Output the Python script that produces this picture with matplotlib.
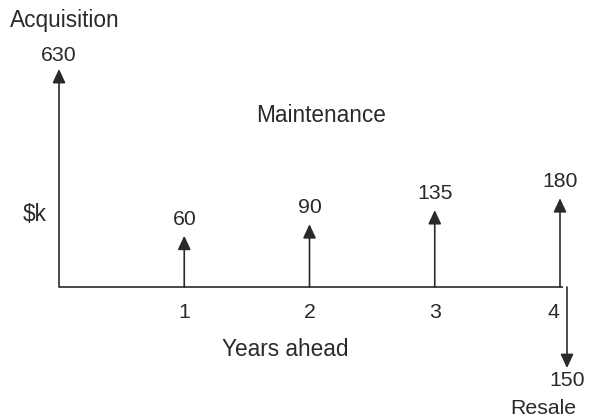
import numpy as np
import matplotlib
matplotlib.use("Agg")
import matplotlib.pyplot as plt

plt.rcParams['font.family'] = ['Liberation Sans', 'DejaVu Sans']

# ---- data ----
years = [1, 2, 3, 4]
maintenance = [60, 90, 135, 180]          # $k, upward cash flows
acquisition_year = 0
acquisition = 630                          # $k
resale_year = 4
resale = 150                               # $k, downward cash flow
tick_labels = ["1", "2", "3", "4"]

# ---- layout ----
W, H, DPI = 591, 420, 100
fig = plt.figure(figsize=(W / DPI, H / DPI), dpi=DPI)
ax = fig.add_axes([0, 0, 1, 1])
ax.set_axis_off()

x0_px, px_per_year = 59, 125.25
base_px = 287          # baseline from top
k = 6.62               # px per sqrt($k)

def fwd(v):
    v = np.asarray(v, dtype=float)
    return np.sign(v) * np.sqrt(np.abs(v))

def inv(f):
    f = np.asarray(f, dtype=float)
    return np.sign(f) * f ** 2

ax.set_yscale('function', functions=(fwd, inv))
ax.set_xlim(-x0_px / px_per_year, (W - x0_px) / px_per_year)
ax.set_ylim(-((H - base_px) / k) ** 2, (base_px / k) ** 2)

col = '#2a2a2a'
fs_word = 16.3
fs_num = 15.3

arrow_kw = dict(arrowstyle='-|>,head_length=0.6,head_width=0.28', color=col,
                lw=1.2, shrinkA=0, shrinkB=0, mutation_scale=14)

# baseline
ax.plot([acquisition_year, 4.024], [0, 0], color=col, lw=1.2, solid_capstyle='butt')

# acquisition / vertical axis arrow
ax.annotate('', xy=(acquisition_year, 1 - 69 / H), xycoords=('data', 'axes fraction'),
            xytext=(acquisition_year, 0), textcoords='data', arrowprops=arrow_kw)
ax.annotate(str(acquisition), xy=(acquisition_year, 1 - 69 / H),
            xycoords=('data', 'axes fraction'), xytext=(0, 3), textcoords='offset points',
            ha='center', va='bottom', fontsize=fs_num, color=col)

# maintenance arrows
for x, v in zip(years, maintenance):
    ax.annotate('', xy=(x, v), xytext=(x, 0), arrowprops=arrow_kw)
    ax.annotate(str(v), xy=(x, v), xytext=(0, 5), textcoords='offset points',
                ha='center', va='bottom', fontsize=fs_num, color=col)

# resale arrow (slightly right of year 4 so it doesn't overlap)
rx = resale_year + 7 / px_per_year
ax.annotate('', xy=(rx, -resale), xytext=(rx, 0), arrowprops=arrow_kw)
ax.annotate(str(resale), xy=(rx, -resale), xytext=(0, -2), textcoords='offset points',
            ha='center', va='top', fontsize=fs_num, color=col)

# tick labels
for x, lab in zip(years, tick_labels):
    dx = -5 if x == resale_year else 0
    ax.annotate(lab, xy=(x, 0), xytext=(dx, -18), textcoords='offset points',
                ha='center', va='center', fontsize=fs_num, color=col)

# words
fig.text(10 / W, 1 - 20 / H, "Acquisition", ha='left', va='center', fontsize=fs_word, color=col)
fig.text(35 / W, 1 - 215 / H, "$k", ha='center', va='center', fontsize=fs_word, color=col)
fig.text(321 / W, 1 - 116 / H, "Maintenance", ha='center', va='center', fontsize=fs_word, color=col)
fig.text(285 / W, 1 - 350 / H, "Years ahead", ha='center', va='center', fontsize=fs_word, color=col)
fig.text(543 / W, 1 - 409 / H, "Resale", ha='center', va='center', fontsize=fs_num, color=col)

fig.savefig("out.png", dpi=DPI)
